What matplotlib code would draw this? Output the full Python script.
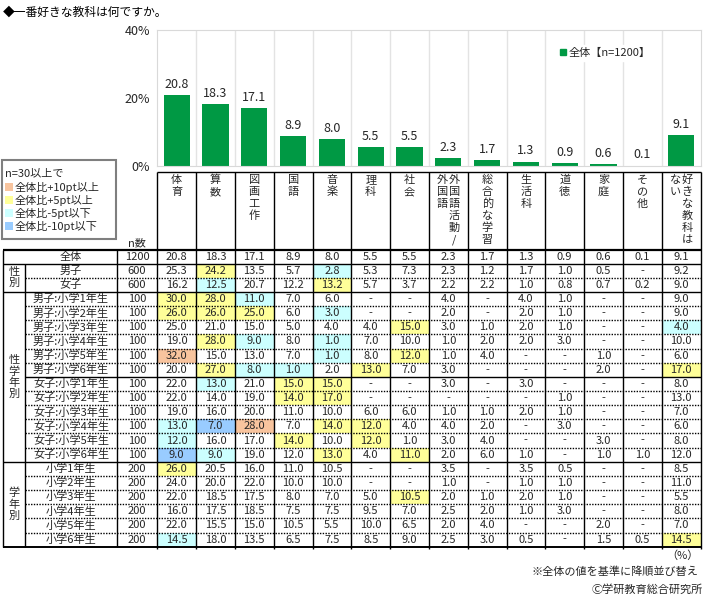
import matplotlib
matplotlib.use('Agg')
import matplotlib.pyplot as plt
from matplotlib.patches import Rectangle
from matplotlib.lines import Line2D

plt.rcParams['font.family'] = ['Noto Sans CJK JP', 'DejaVu Sans']

# ---- data ----
title = '◆一番好きな教科は何ですか。'
subjects = ['体育', '算数', '図画工作', '国語', '音楽', '理科', '社会',
            '外国語/外国語活動', '総合的な学習', '生活科', '道徳', '家庭',
            'その他', '好きな教科はない']
# header text as vertical columns, right column first
header_cols = [['体育'], ['算数'], ['図画工作'], ['国語'], ['音楽'], ['理科'],
               ['社会'], ['外国語活動/', '外国語'], ['総合的な学習'], ['生活科'],
               ['道徳'], ['家庭'], ['その他'], ['好きな教科は', 'ない']]
overall = [20.8, 18.3, 17.1, 8.9, 8.0, 5.5, 5.5, 2.3, 1.7, 1.3, 0.9, 0.6, 0.1, 9.1]
legend_label = '全体【n=1200】'

row_labels = ['全体', '男子', '女子',
              '男子:小学1年生', '男子:小学2年生', '男子:小学3年生',
              '男子:小学4年生', '男子:小学5年生', '男子:小学6年生',
              '女子:小学1年生', '女子:小学2年生', '女子:小学3年生',
              '女子:小学4年生', '女子:小学5年生', '女子:小学6年生',
              '小学1年生', '小学2年生', '小学3年生', '小学4年生', '小学5年生', '小学6年生']
row_n = [1200, 600, 600] + [100] * 12 + [200] * 6
N = None
table_values = [
    [20.8, 18.3, 17.1, 8.9, 8.0, 5.5, 5.5, 2.3, 1.7, 1.3, 0.9, 0.6, 0.1, 9.1],
    [25.3, 24.2, 13.5, 5.7, 2.8, 5.3, 7.3, 2.3, 1.2, 1.7, 1.0, 0.5, N, 9.2],
    [16.2, 12.5, 20.7, 12.2, 13.2, 5.7, 3.7, 2.2, 2.2, 1.0, 0.8, 0.7, 0.2, 9.0],
    [30.0, 28.0, 11.0, 7.0, 6.0, N, N, 4.0, N, 4.0, 1.0, N, N, 9.0],
    [26.0, 26.0, 25.0, 6.0, 3.0, N, N, 2.0, N, 2.0, 1.0, N, N, 9.0],
    [25.0, 21.0, 15.0, 5.0, 4.0, 4.0, 15.0, 3.0, 1.0, 2.0, 1.0, N, N, 4.0],
    [19.0, 28.0, 9.0, 8.0, 1.0, 7.0, 10.0, 1.0, 2.0, 2.0, 3.0, N, N, 10.0],
    [32.0, 15.0, 13.0, 7.0, 1.0, 8.0, 12.0, 1.0, 4.0, N, N, 1.0, N, 6.0],
    [20.0, 27.0, 8.0, 1.0, 2.0, 13.0, 7.0, 3.0, N, N, N, 2.0, N, 17.0],
    [22.0, 13.0, 21.0, 15.0, 15.0, N, N, 3.0, N, 3.0, N, N, N, 8.0],
    [22.0, 14.0, 19.0, 14.0, 17.0, N, N, N, N, N, 1.0, N, N, 13.0],
    [19.0, 16.0, 20.0, 11.0, 10.0, 6.0, 6.0, 1.0, 1.0, 2.0, 1.0, N, N, 7.0],
    [13.0, 7.0, 28.0, 7.0, 14.0, 12.0, 4.0, 4.0, 2.0, N, 3.0, N, N, 6.0],
    [12.0, 16.0, 17.0, 14.0, 10.0, 12.0, 1.0, 3.0, 4.0, N, N, 3.0, N, 8.0],
    [9.0, 9.0, 19.0, 12.0, 13.0, 4.0, 11.0, 2.0, 6.0, 1.0, N, 1.0, 1.0, 12.0],
    [26.0, 20.5, 16.0, 11.0, 10.5, N, N, 3.5, N, 3.5, 0.5, N, N, 8.5],
    [24.0, 20.0, 22.0, 10.0, 10.0, N, N, 1.0, N, 1.0, 1.0, N, N, 11.0],
    [22.0, 18.5, 17.5, 8.0, 7.0, 5.0, 10.5, 2.0, 1.0, 2.0, 1.0, N, N, 5.5],
    [16.0, 17.5, 18.5, 7.5, 7.5, 9.5, 7.0, 2.5, 2.0, 1.0, 3.0, N, N, 8.0],
    [22.0, 15.5, 15.0, 10.5, 5.5, 10.0, 6.5, 2.0, 4.0, N, N, 2.0, N, 7.0],
    [14.5, 18.0, 13.5, 6.5, 7.5, 8.5, 9.0, 2.5, 3.0, 0.5, N, 1.5, 0.5, 14.5],
]
# o: +10pt, y: +5pt, c: -5pt, b: -10pt
table_marks = [
    '..............', '.y..c.........', '.c..y.........',
    'yyc...........', 'yyy.c.........', '......y......c',
    '.yc.c.........', 'o...c.y.......', '.ycc.y.......y',
    '.c.yy.........', '...yy.........', '..............',
    'cbo.yy........', 'c..y.y........', 'bc..y.y.......',
    'y.............', '..............', '......y.......',
    '..............', '..............', 'c............y',
]
groups = [('性\n別', 1, 3), ('性\n学\n年\n別', 3, 15), ('学\n年\n別', 15, 21)]
key_texts = ['全体比+10pt以上', '全体比+5pt以上', '全体比-5pt以下', '全体比-10pt以下']
footnotes = ['（%）', '※全体の値を基準に降順並び替え', 'Ⓒ学研教育総合研究所']

# ---- styles ----
W, H = 710, 599
GREEN = '#009944'
MARK_COLORS = {'o': '#F8C49E', 'y': '#FFFF99', 'c': '#CCFFFF', 'b': '#99CCFF'}
TXT = '#262626'
FS = 8

X0 = 157.3            # first data column
CW = 38.8             # column width
X_END = X0 + CW * 14
Y_HEAD = 172.0
Y_TAB = 249.5
RH = 14.15
X_LEFT, X_GRP, X_N = 3.0, 25.0, 116.7


def draw_bars(fig):
    ax = fig.add_axes([X0 / W, 1 - 166 / H, (X_END - X0) / W, 136 / H])
    bars = ax.bar(range(len(subjects)), overall, width=0.68, color=GREEN)
    ax.bar_label(bars, fmt='%.1f', padding=3, fontsize=9, color=TXT)
    ax.set_xlim(-0.5, len(subjects) - 0.5)
    ax.set_ylim(0, 40)
    ax.set_yticks([0, 20, 40])
    ax.set_yticklabels(['0%', '20%', '40%'], fontsize=9, color=TXT)
    ax.set_xticks([])
    ax.tick_params(axis='y', length=0, pad=5)
    for i in range(1, len(subjects)):
        ax.axvline(i - 0.5, color='#E3E3E3', lw=1, zorder=0)
    for s in ax.spines.values():
        s.set_color('#D9D9D9')
    handle = Line2D([], [], marker='s', ls='', color=GREEN, markersize=4)
    ax.legend([handle], [legend_label], loc='center', bbox_to_anchor=(0.825, 0.83),
              fontsize=8, frameon=True, framealpha=1, edgecolor='white',
              handlelength=0.6, handletextpad=0.2, borderpad=0.3,
              labelcolor=TXT, fancybox=False)


def hline(ov, y, x1, x2, style='-', lw=1.0):
    ov.plot([x1, x2], [y, y], color='black', ls=style, lw=lw, solid_capstyle='butt')


def vline(ov, x, y1, y2, lw=1.0):
    ov.plot([x, x], [y1, y2], color='black', lw=lw, solid_capstyle='butt')


def draw_table(ov):
    n_rows = len(row_labels)
    y_bot = Y_TAB + RH * n_rows

    # header, vertical text
    for j, cols in enumerate(header_cols):
        cx = X0 + CW * (j + 0.5)
        offs = [0] if len(cols) == 1 else [6, -6]
        for text, dx in zip(cols, offs):
            for k, ch in enumerate(text):
                ov.text(cx + dx, 180 + 12 * k, ch, fontsize=FS, color=TXT,
                        ha='center', va='center')
    ov.text(137, 243, 'n数', fontsize=FS, color=TXT, ha='center', va='center')

    # highlighted cells
    for i, marks in enumerate(table_marks):
        for j, m in enumerate(marks):
            if m in MARK_COLORS:
                ov.add_patch(Rectangle((X0 + CW * j, Y_TAB + RH * i), CW, RH,
                                       facecolor=MARK_COLORS[m], edgecolor='none',
                                       zorder=0))

    # cell texts
    for i in range(n_rows):
        cy = Y_TAB + RH * (i + 0.5)
        ov.text(71, cy, row_labels[i], fontsize=FS, color=TXT, ha='center', va='center')
        ov.text(137, cy, str(row_n[i]), fontsize=FS, color=TXT, ha='center', va='center')
        for j, v in enumerate(table_values[i]):
            s = '-' if v is None else '%.1f' % v
            ov.text(X0 + CW * (j + 0.5), cy, s, fontsize=FS, color=TXT,
                    ha='center', va='center')
    for label, r0, r1 in groups:
        cy = Y_TAB + RH * (r0 + r1) / 2
        ov.text((X_LEFT + X_GRP) / 2, cy, label, fontsize=FS, color=TXT,
                ha='center', va='center', linespacing=1.1)

    # grid lines
    hline(ov, Y_HEAD, X0, X_END)
    hline(ov, Y_TAB, X_LEFT, X_END, lw=1.6)
    for i in range(1, n_rows):
        y = Y_TAB + RH * i
        if i in (1, 3, 15):
            hline(ov, y, X_LEFT, X_END)
        elif i == 9:
            hline(ov, y, X_GRP, X_END)
        else:
            hline(ov, y, X_GRP, X_END, style=(0, (1, 1)))
    hline(ov, y_bot, X_LEFT, X_END, lw=1.4)
    vline(ov, X_LEFT, Y_TAB, y_bot)
    vline(ov, X_GRP, Y_TAB + RH, y_bot)
    vline(ov, X_N, Y_TAB, y_bot)
    for j in range(15):
        vline(ov, X0 + CW * j, Y_HEAD, y_bot + 2.5)

    # colour key box
    ov.add_patch(Rectangle((2, 160), 114, 79, facecolor='white',
                           edgecolor='#7F7F7F', lw=1.5))
    ov.text(5, 173, 'n=30以上で', fontsize=FS, color=TXT, va='center')
    for k, (text, m) in enumerate(zip(key_texts, 'oycb')):
        y = 187 + 13 * k
        ov.add_patch(Rectangle((5, y - 4), 8, 8, facecolor=MARK_COLORS[m],
                               edgecolor='none'))
        ov.text(15, y, text, fontsize=FS, color=TXT, va='center')

    # notes
    ov.text(699, 556, footnotes[0], fontsize=FS, color=TXT, ha='right', va='center')
    ov.text(698, 572, footnotes[1], fontsize=FS, color=TXT, ha='right', va='center')
    ov.text(703, 590, footnotes[2], fontsize=FS, color=TXT, ha='right', va='center')


def main():
    fig = plt.figure(figsize=(W / 100, H / 100), dpi=100)
    fig.text(3 / W, 1 - 12 / H, title, fontsize=8.5, color='black', va='center')
    draw_bars(fig)
    ov = fig.add_axes([0, 0, 1, 1])
    ov.set_xlim(0, W)
    ov.set_ylim(H, 0)
    ov.axis('off')
    draw_table(ov)
    fig.savefig('out.png', dpi=100)


if __name__ == '__main__':
    main()
